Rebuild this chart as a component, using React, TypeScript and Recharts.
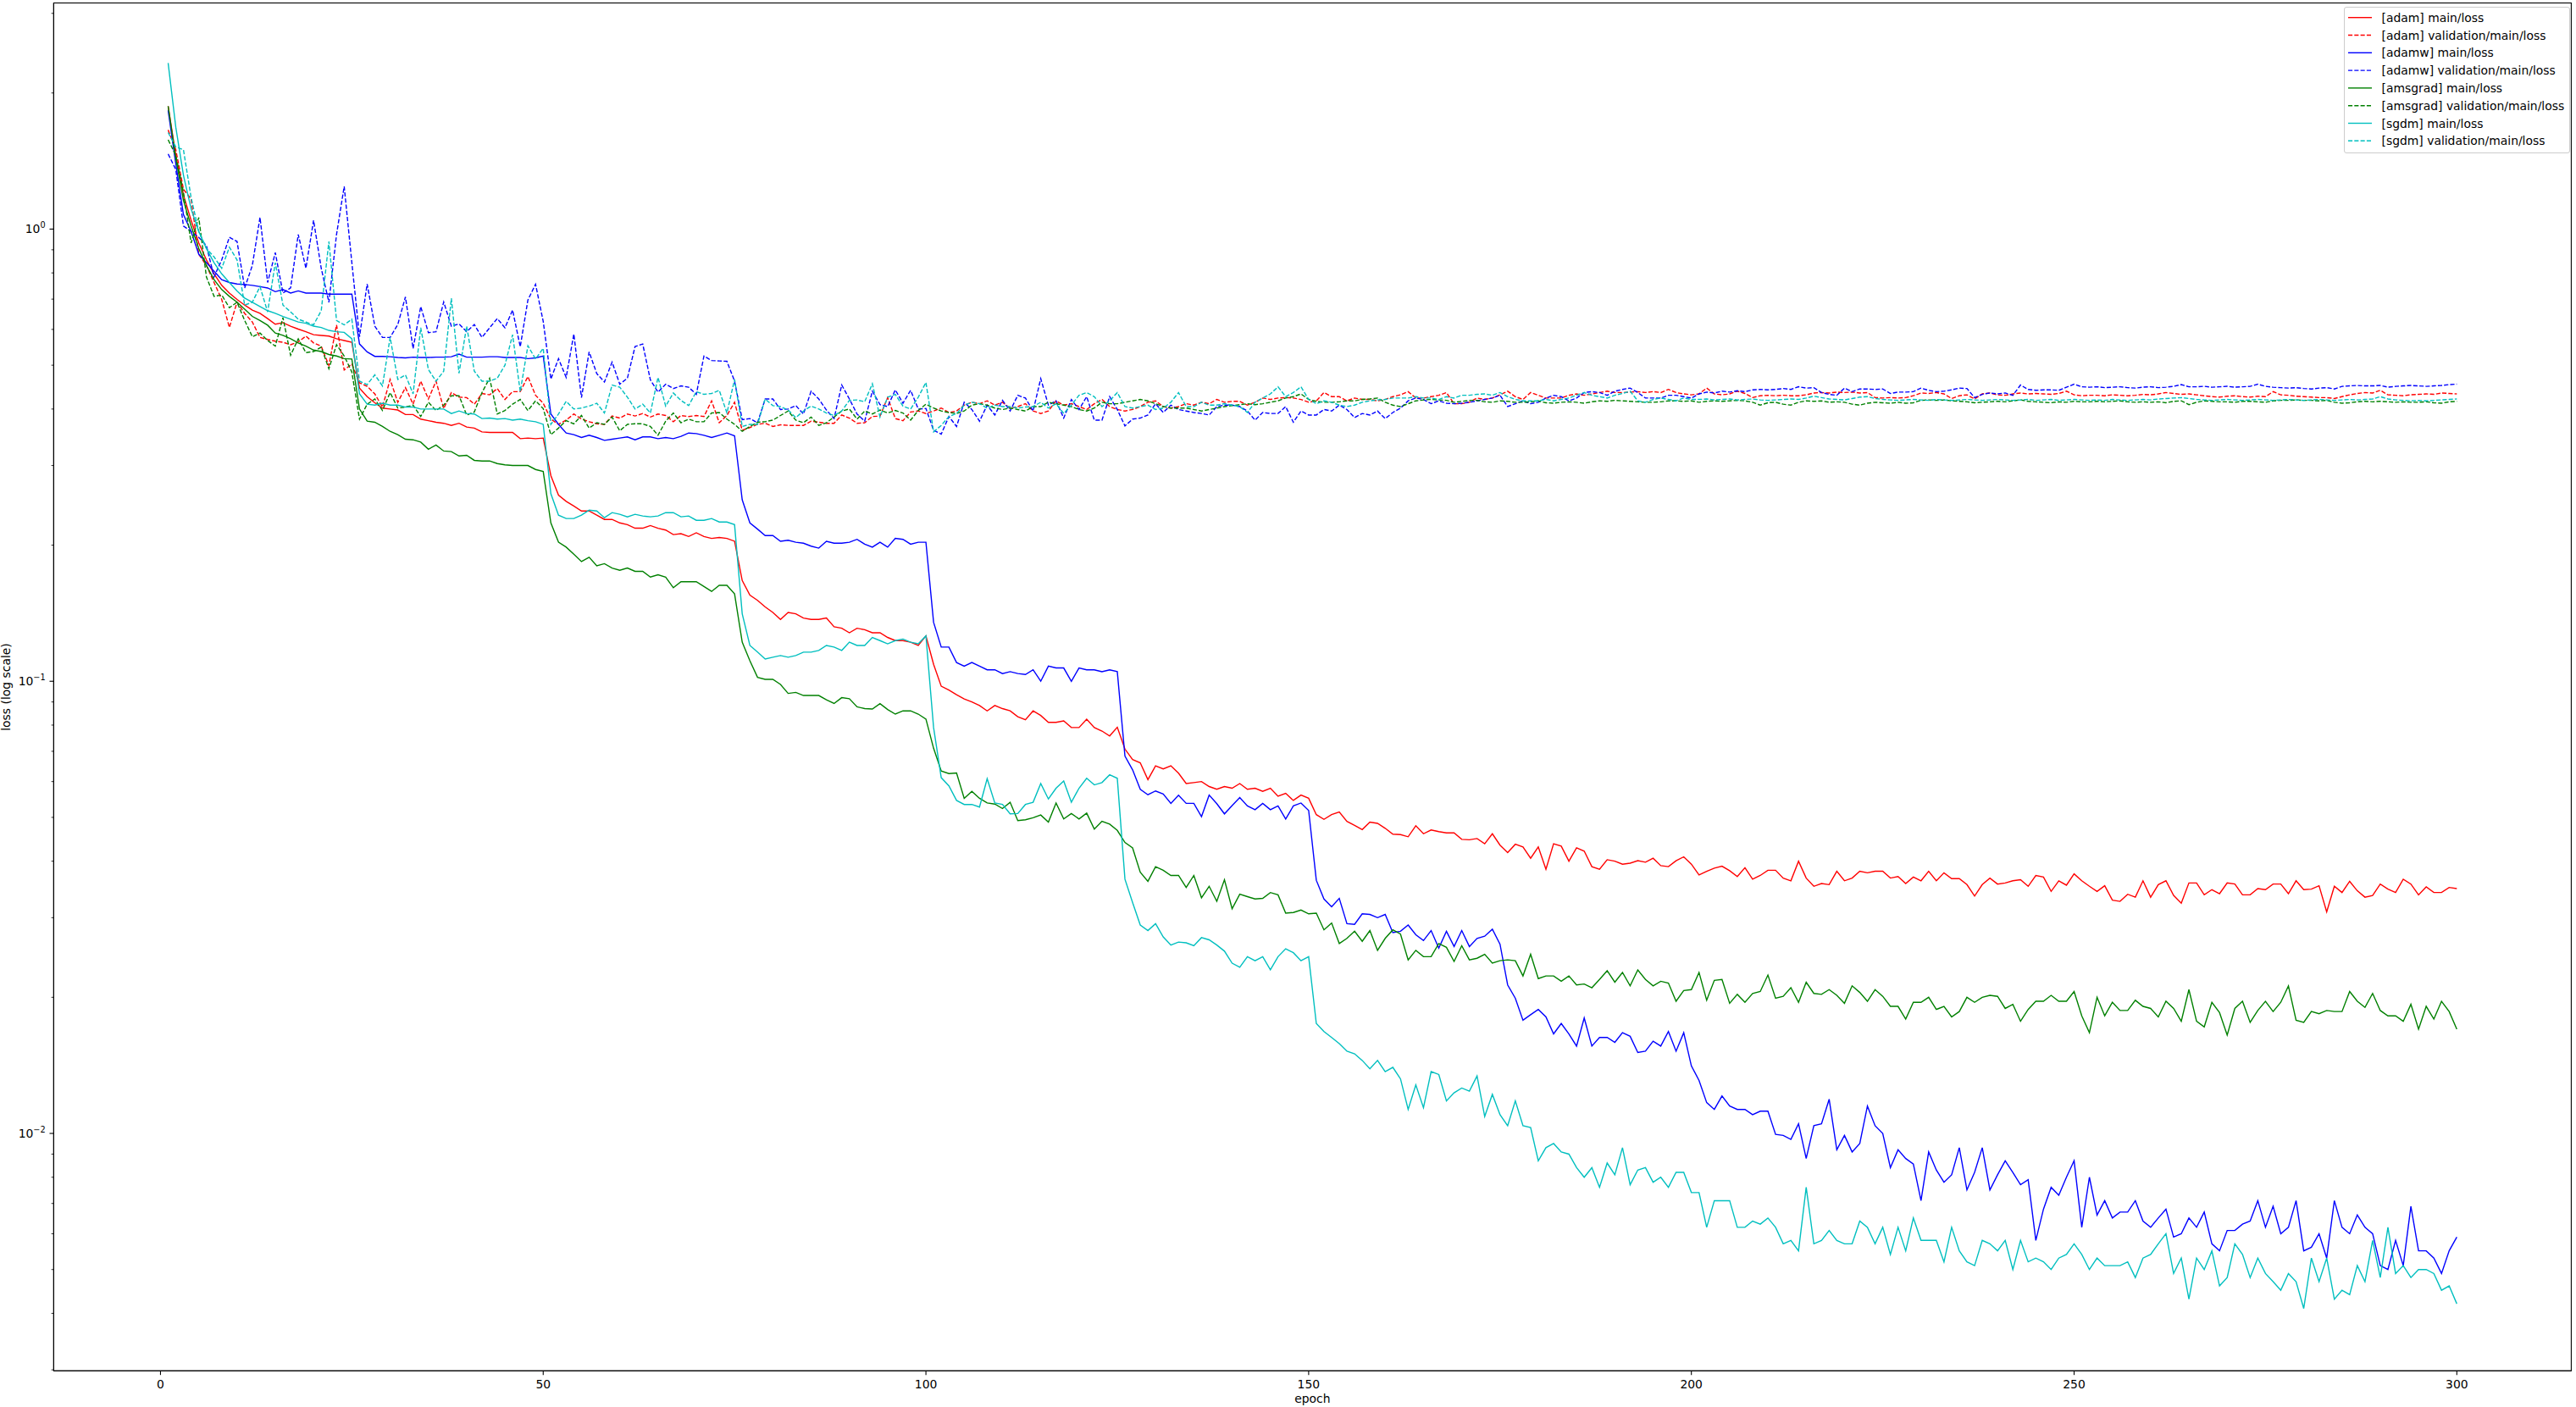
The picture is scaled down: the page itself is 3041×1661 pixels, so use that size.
import React from 'react';
import { LineChart, Line, XAxis, YAxis } from 'recharts';

const W = 3041;
const H = 1661;
const FONT = 'DejaVu Sans';

// plot frame (matplotlib spines)
const PLOT_LEFT = 63.4;
const PLOT_RIGHT = 3035.4;
const PLOT_TOP = 3.5;
const PLOT_BOTTOM = 1618.3;

// epochs 1..300
const epochs: number[] = Array.from({ length: 300 }, (_, i) => i + 1);

const adamMain = [
  1.87, 1.456, 1.19, 1.046, 0.932, 0.855, 0.796, 0.751, 0.722, 0.699,
  0.679, 0.662, 0.651, 0.634, 0.616, 0.621, 0.61, 0.601, 0.593, 0.584,
  0.582, 0.58, 0.572, 0.567, 0.562, 0.445, 0.426, 0.413, 0.402, 0.4,
  0.398, 0.389, 0.389, 0.38, 0.377, 0.374, 0.372, 0.368, 0.372, 0.365,
  0.363, 0.356, 0.355, 0.355, 0.355, 0.355, 0.344, 0.345, 0.344, 0.345,
  0.285, 0.258, 0.25, 0.244, 0.238, 0.238, 0.233, 0.228, 0.228, 0.224,
  0.222, 0.218, 0.218, 0.221, 0.218, 0.216, 0.211, 0.212, 0.209, 0.213,
  0.209, 0.207, 0.208, 0.207, 0.204, 0.167, 0.155, 0.151, 0.146, 0.142,
  0.137, 0.142, 0.141, 0.138, 0.137, 0.137, 0.138, 0.132, 0.131, 0.128,
  0.131, 0.13, 0.128, 0.128, 0.125, 0.123, 0.123, 0.122, 0.12, 0.126,
  0.109, 0.0975, 0.0956, 0.0934, 0.0914, 0.09, 0.0884, 0.086, 0.0884, 0.087,
  0.086, 0.0835, 0.0822, 0.086, 0.084, 0.0811, 0.0811, 0.0817, 0.079, 0.079,
  0.0824, 0.079, 0.0776, 0.0757, 0.0791, 0.0708, 0.0671, 0.066, 0.0606, 0.065,
  0.064, 0.065, 0.0626, 0.0594, 0.0597, 0.06, 0.0585, 0.0577, 0.0585, 0.058,
  0.0594, 0.0577, 0.058, 0.0571, 0.058, 0.0557, 0.0565, 0.0545, 0.056, 0.0551,
  0.0507, 0.0495, 0.0507, 0.0514, 0.049, 0.048, 0.047, 0.0488, 0.0485, 0.0473,
  0.0459, 0.0458, 0.0453, 0.0479, 0.046, 0.0469, 0.0465, 0.0462, 0.0462, 0.0447,
  0.0446, 0.0449, 0.0437, 0.046, 0.0434, 0.0418, 0.0436, 0.043, 0.0406, 0.043,
  0.0384, 0.0437, 0.0432, 0.04, 0.0428, 0.0421, 0.0389, 0.0384, 0.0403, 0.04,
  0.0394, 0.0396, 0.0401, 0.0398, 0.0406, 0.0391, 0.0389, 0.0401, 0.0409, 0.0394,
  0.0373, 0.038, 0.0386, 0.039, 0.0381, 0.037, 0.0387, 0.0365, 0.0372, 0.0382,
  0.0382, 0.0367, 0.0362, 0.04, 0.0367, 0.0352, 0.0357, 0.0355, 0.038, 0.0362,
  0.0367, 0.038, 0.0377, 0.038, 0.038, 0.0367, 0.037, 0.0357, 0.0369, 0.0362,
  0.038, 0.0362, 0.0377, 0.0366, 0.0366, 0.0355, 0.0335, 0.0355, 0.0367, 0.0356,
  0.0358, 0.0362, 0.0364, 0.0352, 0.0372, 0.0369, 0.0343, 0.0362, 0.0354, 0.0375,
  0.0362, 0.0352, 0.0343, 0.0353, 0.0328, 0.0326, 0.0338, 0.0333, 0.0362, 0.0333,
  0.0355, 0.0362, 0.0336, 0.0323, 0.0358, 0.0358, 0.0337, 0.0346, 0.0339, 0.0358,
  0.0356, 0.0337, 0.0337, 0.0348, 0.0346, 0.0356, 0.0356, 0.0339, 0.0362, 0.0346,
  0.0347, 0.0353, 0.0309, 0.0352, 0.0341, 0.0361, 0.0344, 0.0333, 0.0336, 0.0356,
  0.0347, 0.0341, 0.0365, 0.0356, 0.0337, 0.0351, 0.0341, 0.0341, 0.035, 0.0348,
];

const adamVal = [
  1.657, 1.498, 1.225, 1.165, 0.88, 0.831, 0.762, 0.699, 0.606, 0.689,
  0.651, 0.623, 0.576, 0.57, 0.565, 0.562, 0.555, 0.563, 0.58, 0.56,
  0.551, 0.499, 0.614, 0.488, 0.503, 0.457, 0.449, 0.432, 0.404, 0.465,
  0.414, 0.446, 0.41, 0.461, 0.421, 0.461, 0.401, 0.435, 0.425, 0.424,
  0.41, 0.433, 0.43, 0.444, 0.42, 0.437, 0.437, 0.472, 0.429, 0.412,
  0.38, 0.37, 0.378, 0.39, 0.38, 0.375, 0.371, 0.37, 0.386, 0.382,
  0.39, 0.386, 0.391, 0.384, 0.39, 0.387, 0.375, 0.387, 0.385, 0.387,
  0.385, 0.417, 0.373, 0.387, 0.414, 0.359, 0.364, 0.37, 0.372, 0.366,
  0.369, 0.368, 0.368, 0.368, 0.376, 0.374, 0.372, 0.372, 0.388, 0.382,
  0.372, 0.373, 0.385, 0.386, 0.424, 0.381, 0.377, 0.394, 0.396, 0.391,
  0.396, 0.402, 0.393, 0.396, 0.408, 0.414, 0.411, 0.417, 0.408, 0.414,
  0.402, 0.405, 0.411, 0.396, 0.391, 0.396, 0.417, 0.408, 0.411, 0.405,
  0.399, 0.411, 0.42, 0.405, 0.399, 0.396, 0.399, 0.405, 0.414, 0.417,
  0.405, 0.402, 0.405, 0.411, 0.408, 0.414, 0.411, 0.42, 0.414, 0.416,
  0.416, 0.408, 0.414, 0.423, 0.42, 0.423, 0.424, 0.423, 0.42, 0.414,
  0.417, 0.435, 0.426, 0.426, 0.417, 0.423, 0.42, 0.42, 0.417, 0.42,
  0.426, 0.43, 0.437, 0.423, 0.423, 0.426, 0.429, 0.435, 0.411, 0.411,
  0.414, 0.423, 0.42, 0.423, 0.43, 0.438, 0.426, 0.42, 0.435, 0.429,
  0.423, 0.423, 0.423, 0.429, 0.432, 0.429, 0.432, 0.435, 0.438, 0.435,
  0.435, 0.436, 0.437, 0.435, 0.437, 0.435, 0.442, 0.435, 0.432, 0.43,
  0.432, 0.445, 0.432, 0.43, 0.432, 0.438, 0.433, 0.424, 0.428, 0.429,
  0.428, 0.429, 0.428, 0.428, 0.43, 0.434, 0.435, 0.434, 0.436, 0.435,
  0.436, 0.434, 0.435, 0.424, 0.423, 0.424, 0.423, 0.424, 0.428, 0.434,
  0.433, 0.435, 0.432, 0.422, 0.428, 0.43, 0.421, 0.432, 0.434, 0.43,
  0.429, 0.432, 0.434, 0.432, 0.433, 0.432, 0.431, 0.433, 0.438, 0.43,
  0.428, 0.429, 0.429, 0.428, 0.43, 0.429, 0.428, 0.429, 0.431, 0.43,
  0.432, 0.435, 0.433, 0.431, 0.432, 0.43, 0.428, 0.426, 0.425, 0.427,
  0.428, 0.426, 0.425, 0.427, 0.426, 0.437, 0.43, 0.429, 0.427, 0.426,
  0.425, 0.424, 0.424, 0.422, 0.426, 0.43, 0.433, 0.435, 0.434, 0.44,
  0.43, 0.429, 0.428, 0.43, 0.431, 0.432, 0.431, 0.434, 0.433, 0.432,
];

const adamwMain = [
  1.83, 1.394, 1.077, 0.988, 0.88, 0.843, 0.807, 0.773, 0.762, 0.756,
  0.754, 0.751, 0.746, 0.741, 0.727, 0.735, 0.722, 0.73, 0.722, 0.722,
  0.722, 0.718, 0.718, 0.718, 0.718, 0.557, 0.535, 0.523, 0.523, 0.522,
  0.52, 0.519, 0.521, 0.52, 0.52, 0.521, 0.521, 0.522, 0.529, 0.521,
  0.521, 0.521, 0.522, 0.522, 0.52, 0.52, 0.52, 0.517, 0.519, 0.524,
  0.39, 0.37, 0.354, 0.351, 0.346, 0.35, 0.346, 0.341, 0.343, 0.345,
  0.347, 0.342, 0.347, 0.347, 0.344, 0.346, 0.344, 0.348, 0.354, 0.353,
  0.35, 0.346, 0.35, 0.354, 0.349, 0.252, 0.224, 0.217, 0.21, 0.21,
  0.204, 0.205, 0.203, 0.202, 0.199, 0.197, 0.204, 0.202, 0.202, 0.203,
  0.206, 0.201, 0.198, 0.203, 0.198, 0.207, 0.206, 0.201, 0.203, 0.203,
  0.135, 0.119, 0.119, 0.11, 0.108, 0.11, 0.108, 0.106, 0.106, 0.104,
  0.105, 0.104, 0.1035, 0.106, 0.1, 0.108, 0.107, 0.107, 0.1, 0.107,
  0.106, 0.106, 0.105, 0.106, 0.105, 0.0683, 0.0637, 0.0577, 0.0561, 0.0572,
  0.0563, 0.0537, 0.056, 0.0537, 0.0537, 0.0502, 0.056, 0.0536, 0.0509, 0.0531,
  0.0553, 0.053, 0.052, 0.0537, 0.052, 0.053, 0.0496, 0.053, 0.0538, 0.0518,
  0.0363, 0.033, 0.0317, 0.0331, 0.0291, 0.029, 0.0306, 0.0305, 0.03, 0.0305,
  0.0278, 0.028, 0.0289, 0.0275, 0.0267, 0.0281, 0.0257, 0.028, 0.0259, 0.0281,
  0.0259, 0.027, 0.0273, 0.0283, 0.0262, 0.0213, 0.0199, 0.0178, 0.0183, 0.0188,
  0.0181, 0.0166, 0.0175, 0.0166, 0.0156, 0.018, 0.0156, 0.0163, 0.0163, 0.0159,
  0.0167, 0.0164, 0.0151, 0.0152, 0.016, 0.0156, 0.0168, 0.0152, 0.0167, 0.0141,
  0.0131, 0.0117, 0.0113, 0.0121, 0.0115, 0.0113, 0.0113, 0.011, 0.0112, 0.0112,
  0.00995, 0.0099, 0.0097, 0.0105, 0.0088, 0.0104, 0.0105, 0.0119, 0.0092, 0.0099,
  0.0091, 0.0095, 0.0115, 0.0104, 0.01, 0.0084, 0.0092, 0.0088, 0.00856, 0.0071,
  0.0091, 0.0083, 0.0078, 0.0081, 0.0093, 0.0075, 0.0082, 0.0093, 0.0075, 0.0081,
  0.0087, 0.0082, 0.0077, 0.0079, 0.0058, 0.0068, 0.0076, 0.0073, 0.008, 0.0087,
  0.0062, 0.008, 0.0066, 0.0071, 0.0065, 0.0067, 0.0067, 0.0071, 0.0064, 0.0062,
  0.0065, 0.0068, 0.0059, 0.006, 0.0065, 0.0062, 0.0067, 0.0057, 0.0055, 0.0061,
  0.0061, 0.0063, 0.0064, 0.0071, 0.0062, 0.0069, 0.006, 0.0062, 0.0071, 0.0055,
  0.0056, 0.006, 0.0053, 0.0071, 0.0062, 0.006, 0.0066, 0.0062, 0.006, 0.0051,
  0.005, 0.0058, 0.0051, 0.0069, 0.0055, 0.0055, 0.0053, 0.0049, 0.0055, 0.0059,
];

const adamwVal = [
  1.466, 1.355, 1.016, 0.988, 0.959, 0.919, 0.784, 0.855, 0.959, 0.939,
  0.741, 0.831, 1.061, 0.762, 0.887, 0.722, 0.741, 0.973, 0.819, 1.046,
  0.819, 0.689, 0.973, 1.243, 0.843, 0.578, 0.756, 0.61, 0.576, 0.576,
  0.615, 0.708, 0.544, 0.674, 0.59, 0.593, 0.69, 0.61, 0.617, 0.593,
  0.615, 0.576, 0.605, 0.634, 0.605, 0.662, 0.549, 0.697, 0.755, 0.625,
  0.466, 0.517, 0.47, 0.586, 0.424, 0.535, 0.479, 0.459, 0.508, 0.454,
  0.468, 0.55, 0.557, 0.464, 0.436, 0.454, 0.444, 0.45, 0.447, 0.431,
  0.524, 0.512, 0.511, 0.51, 0.461, 0.379, 0.381, 0.373, 0.421, 0.421,
  0.399, 0.4, 0.407, 0.39, 0.438, 0.421, 0.398, 0.381, 0.452, 0.421,
  0.39, 0.376, 0.438, 0.409, 0.405, 0.441, 0.412, 0.44, 0.4, 0.401,
  0.359, 0.352, 0.385, 0.366, 0.414, 0.399, 0.376, 0.408, 0.388, 0.418,
  0.396, 0.429, 0.423, 0.396, 0.467, 0.408, 0.417, 0.382, 0.42, 0.399,
  0.426, 0.378, 0.378, 0.426, 0.399, 0.367, 0.38, 0.382, 0.388, 0.411,
  0.393, 0.408, 0.399, 0.396, 0.393, 0.391, 0.388, 0.405, 0.408, 0.408,
  0.405, 0.396, 0.378, 0.393, 0.391, 0.391, 0.405, 0.374, 0.396, 0.388,
  0.388, 0.399, 0.396, 0.408, 0.399, 0.383, 0.391, 0.388, 0.396, 0.381,
  0.393, 0.402, 0.417, 0.423, 0.42, 0.411, 0.417, 0.412, 0.411, 0.412,
  0.414, 0.417, 0.42, 0.423, 0.429, 0.405, 0.411, 0.417, 0.411, 0.414,
  0.423, 0.429, 0.426, 0.417, 0.423, 0.435, 0.437, 0.435, 0.429, 0.438,
  0.442, 0.445, 0.435, 0.423, 0.423, 0.423, 0.429, 0.429, 0.426, 0.423,
  0.432, 0.436, 0.434, 0.438, 0.436, 0.439, 0.437, 0.441, 0.442, 0.441,
  0.442, 0.444, 0.442, 0.448, 0.445, 0.446, 0.435, 0.431, 0.429, 0.445,
  0.437, 0.443, 0.443, 0.442, 0.443, 0.433, 0.436, 0.436, 0.437, 0.445,
  0.44, 0.437, 0.438, 0.441, 0.445, 0.444, 0.424, 0.431, 0.434, 0.432,
  0.434, 0.429, 0.452, 0.442, 0.44, 0.441, 0.441, 0.44, 0.447, 0.454,
  0.448, 0.447, 0.448, 0.446, 0.447, 0.448, 0.446, 0.445, 0.447, 0.448,
  0.446, 0.447, 0.449, 0.453, 0.448, 0.448, 0.449, 0.447, 0.448, 0.449,
  0.447, 0.448, 0.449, 0.454, 0.449, 0.447, 0.446, 0.445, 0.446, 0.444,
  0.443, 0.445, 0.446, 0.443, 0.449, 0.45, 0.451, 0.45, 0.45, 0.451,
  0.447, 0.449, 0.45, 0.451, 0.45, 0.449, 0.45, 0.451, 0.453, 0.454,
];

const amsgradMain = [
  1.87, 1.434, 1.157, 1.016, 0.906, 0.831, 0.773, 0.735, 0.71, 0.689,
  0.665, 0.641, 0.628, 0.613, 0.589, 0.582, 0.572, 0.56, 0.551, 0.54,
  0.536, 0.528, 0.524, 0.517, 0.516, 0.4, 0.376, 0.374, 0.366, 0.357,
  0.351, 0.343, 0.342, 0.338, 0.326, 0.333, 0.323, 0.322, 0.315, 0.316,
  0.308, 0.307, 0.307, 0.303, 0.301, 0.3, 0.3, 0.3, 0.294, 0.291,
  0.224, 0.203, 0.198, 0.191, 0.184, 0.188, 0.18, 0.182, 0.178, 0.176,
  0.178, 0.175, 0.175, 0.17, 0.172, 0.17, 0.161, 0.166, 0.166, 0.166,
  0.162, 0.158, 0.163, 0.163, 0.156, 0.122, 0.111, 0.102, 0.101, 0.101,
  0.0984, 0.094, 0.0945, 0.093, 0.093, 0.093, 0.091, 0.0893, 0.092, 0.0915,
  0.0878, 0.087, 0.0868, 0.0892, 0.0866, 0.0846, 0.086, 0.086, 0.0846, 0.0825,
  0.0711, 0.0633, 0.0625, 0.0627, 0.0551, 0.0571, 0.0551, 0.0538, 0.0535, 0.0523,
  0.054, 0.0492, 0.0494, 0.0499, 0.0506, 0.0488, 0.0538, 0.0496, 0.051, 0.0496,
  0.0511, 0.0471, 0.049, 0.0483, 0.0468, 0.044, 0.0428, 0.0378, 0.0361, 0.0389,
  0.0382, 0.0372, 0.0372, 0.035, 0.0372, 0.0332, 0.0352, 0.0326, 0.0364, 0.0314,
  0.0338, 0.0334, 0.033, 0.0331, 0.0341, 0.0337, 0.0307, 0.0308, 0.0312, 0.0306,
  0.0307, 0.0282, 0.0292, 0.0263, 0.027, 0.028, 0.0266, 0.0281, 0.0254, 0.027,
  0.0282, 0.0276, 0.0242, 0.0254, 0.0246, 0.0246, 0.0263, 0.0258, 0.024, 0.026,
  0.0242, 0.0244, 0.0249, 0.0238, 0.0241, 0.0242, 0.0241, 0.0223, 0.0249, 0.022,
  0.0223, 0.0223, 0.0217, 0.0223, 0.0213, 0.0214, 0.021, 0.0219, 0.0229, 0.0216,
  0.0227, 0.0212, 0.023, 0.0219, 0.0212, 0.0217, 0.0215, 0.0196, 0.0207, 0.0208,
  0.0227, 0.0197, 0.0218, 0.0219, 0.0194, 0.0203, 0.0195, 0.0204, 0.0206, 0.0224,
  0.0199, 0.0201, 0.021, 0.0195, 0.0216, 0.0204, 0.0203, 0.0208, 0.0202, 0.0194,
  0.0212, 0.0205, 0.0196, 0.0208, 0.0201, 0.0191, 0.0191, 0.0179, 0.0195, 0.0195,
  0.02, 0.0188, 0.0191, 0.0181, 0.0186, 0.02, 0.0195, 0.02, 0.0202, 0.0201,
  0.0189, 0.0193, 0.0177, 0.0188, 0.0196, 0.0196, 0.0202, 0.0196, 0.0196, 0.0206,
  0.0182, 0.0167, 0.02, 0.0182, 0.0195, 0.0187, 0.0187, 0.0197, 0.0191, 0.0189,
  0.0181, 0.0196, 0.0189, 0.0177, 0.0208, 0.0177, 0.0172, 0.0195, 0.0185, 0.0165,
  0.0189, 0.0196, 0.0176, 0.0187, 0.0196, 0.0186, 0.0195, 0.0212, 0.0178, 0.0176,
  0.0186, 0.0184, 0.0187, 0.0186, 0.0186, 0.0206, 0.0196, 0.019, 0.0204, 0.0187,
  0.0182, 0.0182, 0.0177, 0.0193, 0.017, 0.0191, 0.0179, 0.0196, 0.0186, 0.017,
];

const amsgradVal = [
  1.576, 1.456, 1.207, 0.932, 1.061, 0.784, 0.71, 0.715, 0.67, 0.689,
  0.628, 0.578, 0.589, 0.567, 0.551, 0.637, 0.526, 0.572, 0.533, 0.536,
  0.548, 0.491, 0.555, 0.524, 0.483, 0.38, 0.41, 0.421, 0.397, 0.435,
  0.402, 0.404, 0.408, 0.385, 0.414, 0.397, 0.408, 0.428, 0.428, 0.388,
  0.394, 0.435, 0.468, 0.39, 0.397, 0.41, 0.42, 0.397, 0.417, 0.401,
  0.351, 0.363, 0.377, 0.371, 0.387, 0.363, 0.373, 0.37, 0.384, 0.358,
  0.37, 0.371, 0.371, 0.366, 0.35, 0.376, 0.392, 0.373, 0.38, 0.375,
  0.375, 0.392, 0.393, 0.38, 0.37, 0.357, 0.366, 0.374, 0.375, 0.378,
  0.387, 0.396, 0.378, 0.373, 0.384, 0.368, 0.373, 0.384, 0.396, 0.4,
  0.38, 0.396, 0.39, 0.398, 0.392, 0.397, 0.392, 0.378, 0.397, 0.41,
  0.402, 0.396, 0.393, 0.391, 0.396, 0.408, 0.411, 0.408, 0.402, 0.399,
  0.402, 0.399, 0.396, 0.405, 0.405, 0.414, 0.411, 0.408, 0.405, 0.399,
  0.396, 0.402, 0.414, 0.411, 0.411, 0.414, 0.417, 0.42, 0.417, 0.411,
  0.405, 0.402, 0.402, 0.402, 0.399, 0.396, 0.399, 0.402, 0.405, 0.407,
  0.409, 0.411, 0.409, 0.411, 0.414, 0.417, 0.423, 0.426, 0.432, 0.42,
  0.416, 0.414, 0.414, 0.415, 0.417, 0.417, 0.42, 0.421, 0.423, 0.414,
  0.408, 0.405, 0.411, 0.417, 0.419, 0.42, 0.419, 0.418, 0.414, 0.416,
  0.418, 0.418, 0.415, 0.414, 0.417, 0.416, 0.414, 0.414, 0.415, 0.417,
  0.413, 0.412, 0.414, 0.415, 0.414, 0.412, 0.415, 0.417, 0.416, 0.418,
  0.417, 0.416, 0.415, 0.414, 0.414, 0.415, 0.417, 0.417, 0.416, 0.417,
  0.414, 0.416, 0.417, 0.416, 0.417, 0.418, 0.417, 0.414, 0.408, 0.413,
  0.414, 0.41, 0.408, 0.414, 0.417, 0.416, 0.417, 0.414, 0.415, 0.414,
  0.41, 0.408, 0.412, 0.414, 0.413, 0.412, 0.414, 0.412, 0.413, 0.418,
  0.419, 0.418, 0.419, 0.417, 0.416, 0.415, 0.413, 0.414, 0.415, 0.416,
  0.415, 0.417, 0.419, 0.416, 0.415, 0.414, 0.413, 0.415, 0.414, 0.416,
  0.415, 0.415, 0.416, 0.415, 0.416, 0.417, 0.415, 0.414, 0.415, 0.414,
  0.415, 0.413, 0.416, 0.417, 0.409, 0.414, 0.417, 0.416, 0.415, 0.415,
  0.414, 0.416, 0.416, 0.415, 0.414, 0.417, 0.418, 0.418, 0.419, 0.418,
  0.418, 0.417, 0.418, 0.414, 0.412, 0.413, 0.415, 0.416, 0.415, 0.416,
  0.415, 0.414, 0.415, 0.414, 0.414, 0.415, 0.413, 0.412, 0.415, 0.416,
];

const sgdmMain = [
  2.33, 1.68, 1.316, 1.108, 0.988, 0.906, 0.843, 0.796, 0.762, 0.73,
  0.704, 0.689, 0.674, 0.66, 0.651, 0.641, 0.632, 0.623, 0.619, 0.61,
  0.606, 0.597, 0.593, 0.591, 0.572, 0.432, 0.41, 0.408, 0.412, 0.408,
  0.408, 0.404, 0.404, 0.4, 0.4, 0.4, 0.4, 0.391, 0.396, 0.391,
  0.39, 0.381, 0.382, 0.38, 0.381, 0.378, 0.38, 0.377, 0.375, 0.37,
  0.26, 0.233, 0.229, 0.229, 0.233, 0.239, 0.238, 0.23, 0.236, 0.234,
  0.231, 0.234, 0.232, 0.231, 0.232, 0.236, 0.236, 0.231, 0.232, 0.227,
  0.227, 0.229, 0.225, 0.225, 0.222, 0.141, 0.12, 0.116, 0.112, 0.113,
  0.114, 0.113, 0.114, 0.116, 0.116, 0.117, 0.12, 0.119, 0.117, 0.122,
  0.12, 0.12, 0.125, 0.123, 0.121, 0.123, 0.124, 0.122, 0.121, 0.126,
  0.079, 0.0612, 0.0587, 0.0545, 0.0534, 0.0534, 0.0527, 0.0609, 0.0538, 0.0534,
  0.0509, 0.051, 0.0534, 0.054, 0.0594, 0.0549, 0.058, 0.0602, 0.054, 0.058,
  0.061, 0.059, 0.0597, 0.0621, 0.061, 0.0365, 0.0324, 0.0289, 0.0281, 0.0291,
  0.0272, 0.0261, 0.0265, 0.0264, 0.026, 0.0271, 0.0268, 0.0261, 0.0253, 0.0238,
  0.0233, 0.0246, 0.0241, 0.0246, 0.023, 0.0246, 0.0256, 0.0251, 0.0241, 0.0246,
  0.0175, 0.0168, 0.0163, 0.0158, 0.0152, 0.015, 0.0145, 0.0139, 0.0145, 0.0137,
  0.014, 0.0132, 0.0113, 0.0128, 0.0114, 0.0137, 0.0135, 0.0118, 0.0123, 0.0126,
  0.0124, 0.0134, 0.0109, 0.0122, 0.011, 0.0104, 0.0118, 0.0104, 0.0103, 0.0087,
  0.0093, 0.0095, 0.0091, 0.009, 0.0084, 0.008, 0.0084, 0.0076, 0.0086, 0.0081,
  0.0093, 0.0077, 0.0083, 0.0084, 0.0078, 0.008, 0.0076, 0.0082, 0.0082, 0.0074,
  0.0074, 0.0062, 0.0071, 0.0071, 0.0071, 0.0062, 0.0062, 0.0064, 0.0063, 0.0065,
  0.0062, 0.0057, 0.0058, 0.0055, 0.0076, 0.0057, 0.0058, 0.0061, 0.0058, 0.0057,
  0.0057, 0.0064, 0.0062, 0.0057, 0.0062, 0.0054, 0.0062, 0.0055, 0.0065, 0.0058,
  0.0058, 0.0058, 0.0052, 0.0062, 0.0055, 0.0052, 0.0051, 0.0058, 0.0057, 0.0055,
  0.0058, 0.005, 0.0058, 0.0052, 0.0053, 0.0052, 0.005, 0.0053, 0.0054, 0.0057,
  0.0054, 0.005, 0.0053, 0.0051, 0.0051, 0.0051, 0.0052, 0.0048, 0.0053, 0.0054,
  0.0057, 0.006, 0.0049, 0.0053, 0.0043, 0.0053, 0.005, 0.0055, 0.0046, 0.0048,
  0.0057, 0.0054, 0.0048, 0.0053, 0.0049, 0.0047, 0.0045, 0.0049, 0.0047, 0.0041,
  0.0053, 0.0047, 0.0053, 0.0043, 0.0045, 0.0044, 0.0051, 0.0047, 0.0058, 0.0048,
  0.0062, 0.0049, 0.0051, 0.0048, 0.005, 0.005, 0.0049, 0.0045, 0.0046, 0.0042,
];

const sgdmVal = [
  1.635, 1.52, 1.498, 1.174, 0.988, 0.906, 0.868, 0.819, 0.912, 0.855,
  0.679, 0.689, 0.746, 0.656, 0.843, 0.679, 0.656, 0.632, 0.623, 0.614,
  0.66, 0.939, 0.628, 0.614, 0.632, 0.461, 0.453, 0.476, 0.45, 0.576,
  0.465, 0.476, 0.432, 0.605, 0.489, 0.461, 0.485, 0.703, 0.48, 0.61,
  0.485, 0.461, 0.461, 0.468, 0.5, 0.584, 0.437, 0.552, 0.516, 0.545,
  0.37, 0.39, 0.416, 0.4, 0.402, 0.406, 0.412, 0.392, 0.452, 0.447,
  0.425, 0.4, 0.41, 0.392, 0.47, 0.406, 0.434, 0.418, 0.407, 0.437,
  0.431, 0.433, 0.44, 0.392, 0.465, 0.366, 0.37, 0.37, 0.421, 0.407,
  0.405, 0.398, 0.383, 0.396, 0.406, 0.4, 0.392, 0.387, 0.396, 0.418,
  0.419, 0.415, 0.455, 0.384, 0.425, 0.431, 0.406, 0.4, 0.425, 0.458,
  0.356, 0.368, 0.385, 0.391, 0.408, 0.414, 0.411, 0.402, 0.408, 0.405,
  0.405, 0.402, 0.404, 0.405, 0.414, 0.402, 0.411, 0.391, 0.408, 0.429,
  0.435, 0.426, 0.405, 0.417, 0.435, 0.405, 0.402, 0.405, 0.408, 0.399,
  0.402, 0.414, 0.435, 0.405, 0.405, 0.414, 0.408, 0.408, 0.411, 0.408,
  0.405, 0.393, 0.414, 0.423, 0.432, 0.448, 0.426, 0.435, 0.448, 0.42,
  0.411, 0.417, 0.414, 0.408, 0.405, 0.408, 0.414, 0.417, 0.419, 0.42,
  0.423, 0.423, 0.423, 0.426, 0.423, 0.423, 0.42, 0.426, 0.423, 0.429,
  0.429, 0.431, 0.432, 0.429, 0.435, 0.426, 0.42, 0.417, 0.417, 0.417,
  0.42, 0.417, 0.42, 0.423, 0.429, 0.435, 0.429, 0.426, 0.423, 0.429,
  0.433, 0.438, 0.417, 0.414, 0.42, 0.423, 0.42, 0.417, 0.423, 0.42,
  0.42, 0.421, 0.419, 0.42, 0.421, 0.419, 0.42, 0.421, 0.419, 0.418,
  0.419, 0.42, 0.421, 0.42, 0.423, 0.427, 0.424, 0.421, 0.42, 0.419,
  0.422, 0.425, 0.426, 0.422, 0.42, 0.419, 0.418, 0.419, 0.42, 0.419,
  0.418, 0.42, 0.419, 0.418, 0.419, 0.42, 0.419, 0.418, 0.419, 0.42,
  0.419, 0.418, 0.419, 0.42, 0.418, 0.419, 0.42, 0.418, 0.419, 0.42,
  0.419, 0.418, 0.419, 0.418, 0.42, 0.419, 0.418, 0.419, 0.42, 0.419,
  0.421, 0.422, 0.423, 0.424, 0.422, 0.42, 0.419, 0.418, 0.419, 0.42,
  0.419, 0.418, 0.419, 0.42, 0.419, 0.418, 0.419, 0.42, 0.419, 0.418,
  0.419, 0.42, 0.419, 0.418, 0.419, 0.42, 0.419, 0.42, 0.421, 0.426,
  0.421, 0.419, 0.418, 0.417, 0.418, 0.417, 0.418, 0.419, 0.42, 0.421,
];

const xTicks = [0, 50, 100, 150, 200, 250, 300];
const yMajorTicks = [0.01, 0.1, 1];
const yMinorTicks = [
  0.003, 0.004, 0.005, 0.006, 0.007, 0.008, 0.009,
  0.02, 0.03, 0.04, 0.05, 0.06, 0.07, 0.08, 0.09,
  0.2, 0.3, 0.4, 0.5, 0.6, 0.7, 0.8, 0.9,
  2, 3,
];
const yTicks = [...yMinorTicks, ...yMajorTicks].sort((a, b) => a - b);

const xDomain: [number, number] = [-13.95, 314.95];
const yDomain: [number, number] = [0.002985, 3.163];

const series = [
  { key: 'adamMain', label: '[adam] main/loss', color: '#ff0000', dashed: false, values: adamMain },
  { key: 'adamVal', label: '[adam] validation/main/loss', color: '#ff0000', dashed: true, values: adamVal },
  { key: 'adamwMain', label: '[adamw] main/loss', color: '#0000ff', dashed: false, values: adamwMain },
  { key: 'adamwVal', label: '[adamw] validation/main/loss', color: '#0000ff', dashed: true, values: adamwVal },
  { key: 'amsgradMain', label: '[amsgrad] main/loss', color: '#008000', dashed: false, values: amsgradMain },
  { key: 'amsgradVal', label: '[amsgrad] validation/main/loss', color: '#008000', dashed: true, values: amsgradVal },
  { key: 'sgdmMain', label: '[sgdm] main/loss', color: '#00bfbf', dashed: false, values: sgdmMain },
  { key: 'sgdmVal', label: '[sgdm] validation/main/loss', color: '#00bfbf', dashed: true, values: sgdmVal },
];

const data = epochs.map((epoch, i) => {
  const row: Record<string, number> = { epoch };
  series.forEach((s) => {
    row[s.key] = s.values[i];
  });
  return row;
});

const DASH = '5.1 2.2';

const renderXTick = (props: any) => {
  const { x, y, payload } = props;
  return (
    <g>
      <line x1={x} x2={x} y1={y} y2={y + 4.9} stroke="#000" strokeWidth={1.1} />
      <text x={x} y={y + 21} textAnchor="middle" fontSize={13.9} fontFamily={FONT} fill="#000">
        {payload.value}
      </text>
    </g>
  );
};

const renderYTick = (props: any) => {
  const { x, y, payload } = props;
  const lg = Math.log10(payload.value);
  const exp = Math.round(lg);
  const major = Math.abs(lg - exp) < 1e-6;
  const len = major ? 4.9 : 2.8;
  return (
    <g>
      <line x1={x - len} x2={x} y1={y} y2={y} stroke="#000" strokeWidth={major ? 1.1 : 0.8} />
      {major && (
        <text x={x - len - 4.9} y={y + 5} textAnchor="end" fontSize={13.9} fontFamily={FONT} fill="#000">
          10
          <tspan dy={-6} fontSize={9.7}>
            {String(exp).replace('-', '\u2212')}
          </tspan>
        </text>
      )}
    </g>
  );
};

const LegendBox = () => (
  <div
    style={{
      position: 'absolute',
      left: 2766.5,
      top: 8.3,
      width: 265,
      height: 171,
      border: '1px solid #cccccc',
      borderRadius: 3,
      background: 'rgba(255,255,255,0.8)',
    }}
  >
    <svg width={265} height={171} style={{ display: 'block' }}>
      {series.map((s, i) => {
        const cy = 11.7 + i * 20.8;
        return (
          <g key={s.key}>
            <line
              x1={4}
              x2={32}
              y1={cy}
              y2={cy}
              stroke={s.color}
              strokeWidth={1.4}
              strokeDasharray={s.dashed ? DASH : undefined}
            />
            <text x={43.5} y={cy + 5} fontSize={13.9} fontFamily={FONT} fill="#000">
              {s.label}
            </text>
          </g>
        );
      })}
    </svg>
  </div>
);

// spines on all four sides plus the axis titles, drawn over the chart like matplotlib does
const Overlay = () => (
  <svg width={W} height={H} style={{ position: 'absolute', left: 0, top: 0, pointerEvents: 'none' }}>
    <rect
      x={PLOT_LEFT}
      y={PLOT_TOP}
      width={PLOT_RIGHT - PLOT_LEFT}
      height={PLOT_BOTTOM - PLOT_TOP}
      fill="none"
      stroke="#000"
      strokeWidth={1.1}
    />
    <text x={1549.4} y={1656} textAnchor="middle" fontSize={13.9} fontFamily={FONT} fill="#000">
      epoch
    </text>
    <text
      x={11.5}
      y={811}
      textAnchor="middle"
      fontSize={13.9}
      fontFamily={FONT}
      fill="#000"
      transform="rotate(-90 11.5 811)"
    >
      loss (log scale)
    </text>
  </svg>
);

export default function App() {
  return (
    <div style={{ position: 'absolute', left: 0, top: 0, width: W, height: H, background: '#fff' }}>
      <LineChart
        width={W}
        height={H}
        data={data}
        margin={{ top: PLOT_TOP, right: W - PLOT_RIGHT, left: 0, bottom: 0 }}
      >
        <XAxis
          dataKey="epoch"
          type="number"
          domain={xDomain}
          allowDataOverflow
          ticks={xTicks}
          interval={0}
          tick={renderXTick}
          tickLine={false}
          tickSize={0}
          tickMargin={0}
          height={H - PLOT_BOTTOM}
          axisLine={{ stroke: '#000', strokeWidth: 1.1 }}
        />
        <YAxis
          type="number"
          scale="log"
          domain={yDomain}
          allowDataOverflow
          ticks={yTicks}
          interval={0}
          tick={renderYTick}
          tickLine={false}
          tickSize={0}
          tickMargin={0}
          width={PLOT_LEFT}
          axisLine={{ stroke: '#000', strokeWidth: 1.1 }}
        />
        {series.map((s) => (
          <Line
            key={s.key}
            type="linear"
            dataKey={s.key}
            name={s.label}
            stroke={s.color}
            strokeWidth={1.4}
            strokeDasharray={s.dashed ? DASH : undefined}
            dot={false}
            activeDot={false}
            isAnimationActive={false}
          />
        ))}
      </LineChart>
      <Overlay />
      <LegendBox />
    </div>
  );
}
